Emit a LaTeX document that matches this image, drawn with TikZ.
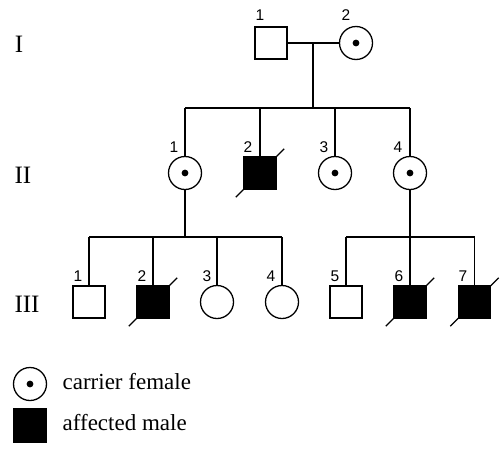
\documentclass[tikz,border=0pt]{standalone}
\usepackage{fontspec}
\setmainfont{Liberation Serif}
\newfontfamily\numfont{Liberation Sans}
\usetikzlibrary{calc}
\begin{document}
\begin{tikzpicture}[x=1pt,y=-1pt, line width=1.3pt,
  male/.style={draw, rectangle, minimum size=32pt, inner sep=0pt},
  female/.style={draw, circle, minimum size=33pt, inner sep=0pt},
  carrier/.style={female, path picture={\fill (path picture bounding box.center) circle (3.4pt);}},
  affected/.style={male, fill=black},
  lbl/.style={font=\numfont\fontsize{15.5}{15.5}\selectfont, inner sep=0pt},
  gen/.style={font=\fontsize{25}{25}\selectfont, inner sep=0pt},
  legendtext/.style={font=\fontsize{23}{26}\selectfont, inner sep=0pt, anchor=base west},
  link/.style={line width=1.3pt}
]
\useasboundingbox[fill=white] (0,0) rectangle (500,453);

% generation labels
\node[gen] (gI) at (19,44) {I};
\node[gen] (gII) at (23,175) {II};
\node[gen] (gIII) at (27,304) {III};

% generation I
\node[male] (I1) at (271,43) {};
\node[carrier] (I2) at (356,43) {};
\node[lbl] (lI1) at (260,15.5) {1};
\node[lbl] (lI2) at (346,15.5) {2};

% generation II
\node[carrier] (II1) at (185,173) {};
\node[affected] (II2) at (260,173) {};
\node[carrier] (II3) at (335,173) {};
\node[carrier] (II4) at (410,173) {};
\node[lbl] (lII1) at (174,147) {1};
\node[lbl] (lII2) at (248,147) {2};
\node[lbl] (lII3) at (324,147) {3};
\node[lbl] (lII4) at (398,147) {4};

% generation III
\node[male] (III1) at (89,302) {};
\node[affected] (III2) at (153,302) {};
\node[female] (III3) at (217,302) {};
\node[female] (III4) at (282,302) {};
\node[male] (III5) at (346,302) {};
\node[affected] (III6) at (410,302) {};
\node[affected] (III7) at (474.5,302) {};
\node[lbl] (lIII1) at (78,276) {1};
\node[lbl] (lIII2) at (142,276) {2};
\node[lbl] (lIII3) at (207,276) {3};
\node[lbl] (lIII4) at (271,276) {4};
\node[lbl] (lIII5) at (335,276) {5};
\node[lbl] (lIII6) at (399,276) {6};
\node[lbl] (lIII7) at (463,276) {7};

% deceased slashes
\foreach \n in {II2,III2,III6,III7}
  \draw[link] ($(\n.south west)+(-7.5pt,-7.5pt)$) -- ($(\n.north east)+(7.5pt,7.5pt)$);

% connectors
\coordinate (m) at (313,43);
\coordinate (sI) at (313,108);
\coordinate (sL) at (185,237);
\coordinate (sR) at (410,237);
\draw[link] (I1) -- (I2);
\draw[link] (m) -- (sI);
\draw[link] (II1.north |- sI) -- (II4.north |- sI);
\foreach \n in {II1,II2,II3,II4}
  \draw[link] (\n.north |- sI) -- (\n.north);
\draw[link] (II1.south) -- (sL);
\draw[link] (III1.north |- sL) -- (III4.north |- sL);
\foreach \n in {III1,III2,III3,III4}
  \draw[link] (\n.north |- sL) -- (\n.north);
\draw[link] (II4.south) -- (sR);
\draw[link] (III5.north |- sR) -- (III7.north |- sR);
\foreach \n in {III5,III6,III7}
  \draw[link] (\n.north |- sR) -- (\n.north);

% legend
\node[carrier] (Lc) at (30,384) {};
\node[affected, minimum size=33pt] (La) at (30,425.5) {};
\node[legendtext] (Lct) at (62,389) {carrier female};
\node[legendtext] (Lat) at (62,430) {affected male};
\end{tikzpicture}
\end{document}
